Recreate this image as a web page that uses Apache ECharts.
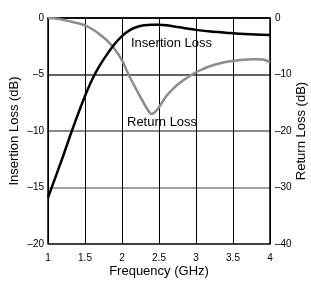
<!DOCTYPE html>
<html>
<head>
<meta charset="utf-8">
<script src="https://cdn.jsdelivr.net/npm/echarts@6/dist/echarts.min.js"></script>
<style>
  html, body { margin: 0; padding: 0; background: #fff; }
  #chart { width: 311px; height: 282px; }
</style>
</head>
<body>
<div id="chart"></div>
<script>
// frequency points (GHz)
var freqIL = [1.0, 1.1, 1.2, 1.3, 1.4, 1.5, 1.6, 1.7, 1.8, 1.9, 2.0, 2.1, 2.2, 2.3, 2.4, 2.5, 2.6, 2.7, 2.8, 2.9, 3.0, 3.2, 3.4, 3.6, 3.8, 4.0];
var insertionLoss = [-15.9, -14.1, -12.3, -10.4, -8.6, -6.9, -5.4, -4.2, -3.2, -2.3, -1.6, -1.1, -0.8, -0.65, -0.6, -0.6, -0.65, -0.75, -0.85, -0.95, -1.05, -1.2, -1.3, -1.4, -1.45, -1.5];

var freqRL = [1.0, 1.1, 1.2, 1.3, 1.4, 1.5, 1.6, 1.7, 1.8, 1.9, 2.0, 2.1, 2.2, 2.3, 2.35, 2.4, 2.45, 2.5, 2.6, 2.7, 2.8, 2.9, 3.0, 3.1, 3.2, 3.3, 3.4, 3.5, 3.6, 3.7, 3.8, 3.9, 4.0];
var returnLoss = [0, -0.1, -0.3, -0.6, -0.9, -1.3, -2.0, -2.9, -4.0, -5.5, -7.5, -10.3, -12.8, -15.2, -16.3, -17.0, -16.6, -15.8, -13.8, -12.4, -11.3, -10.4, -9.6, -9.0, -8.5, -8.1, -7.8, -7.6, -7.45, -7.35, -7.3, -7.35, -7.8];

var xTicks = { min: 1, max: 4, step: 0.5 };
var ilTicks = { min: -20, max: 0, step: 5 };
var rlTicks = { min: -40, max: 0, step: 10 };

function pairs(xs, ys) {
  var out = [];
  for (var i = 0; i < xs.length; i++) out.push([xs[i], ys[i]]);
  return out;
}
function dash(v) { return String(v).replace('-', '\u2013'); }

var font = 'Liberation Sans, Arial, sans-serif';
var chart = echarts.init(document.getElementById('chart'));
chart.setOption({
  animation: false,
  textStyle: { fontFamily: font },
  grid: { left: 48, right: 41, top: 18, bottom: 38, outerBoundsMode: 'none', containLabel: false },
  xAxis: {
    type: 'value',
    min: xTicks.min, max: xTicks.max, interval: xTicks.step,
    name: 'Frequency (GHz)', nameLocation: 'middle', nameGap: 21, nameMoveOverlap: false,
    nameTextStyle: { fontSize: 13, color: '#000', fontFamily: font },
    axisLine: { lineStyle: { color: '#000', width: 1.5 } },
    axisTick: { show: false },
    axisLabel: { fontSize: 10, color: '#000', margin: 9, fontFamily: font },
    splitLine: { show: true, lineStyle: { color: '#000', width: 1 } }
  },
  yAxis: [{
    type: 'value',
    min: ilTicks.min, max: ilTicks.max, interval: ilTicks.step,
    name: 'Insertion Loss (dB)', nameLocation: 'middle', nameGap: 27, nameMoveOverlap: false,
    nameTextStyle: { fontSize: 13, color: '#000', fontFamily: font },
    axisLine: { show: true, lineStyle: { color: '#000', width: 1.5 } },
    axisTick: { show: false },
    axisLabel: { fontSize: 10, color: '#000', margin: 4, formatter: dash, fontFamily: font },
    splitLine: { show: true, lineStyle: { color: ['#000', '#808080', '#606060', '#303030', '#000'], width: 1.5 } }
  }, {
    type: 'value',
    min: rlTicks.min, max: rlTicks.max, interval: rlTicks.step,
    name: 'Return Loss (dB)', nameLocation: 'middle', nameGap: 25, nameMoveOverlap: false,
    nameTextStyle: { fontSize: 13, color: '#000', fontFamily: font },
    axisLine: { show: true, lineStyle: { color: '#000', width: 1.5 } },
    axisTick: { show: false },
    axisLabel: { fontSize: 10, color: '#000', margin: 5, formatter: dash, fontFamily: font },
    splitLine: { show: false }
  }],
  graphic: [
    { type: 'text', left: 131, top: 37, style: { text: 'Insertion Loss', fontSize: 13, fill: '#000', fontFamily: font } },
    { type: 'text', left: 127, top: 116, style: { text: 'Return Loss', fontSize: 13, fill: '#000', fontFamily: font } }
  ],
  series: [{
    name: 'Return Loss',
    type: 'line',
    yAxisIndex: 1,
    data: pairs(freqRL, returnLoss),
    smooth: 0.3,
    symbol: 'none',
    lineStyle: { color: '#8c8c8c', width: 2.5 }
  }, {
    name: 'Insertion Loss',
    type: 'line',
    yAxisIndex: 0,
    data: pairs(freqIL, insertionLoss),
    smooth: 0.3,
    symbol: 'none',
    lineStyle: { color: '#000', width: 2.5 }
  }]
});
</script>
</body>
</html>
